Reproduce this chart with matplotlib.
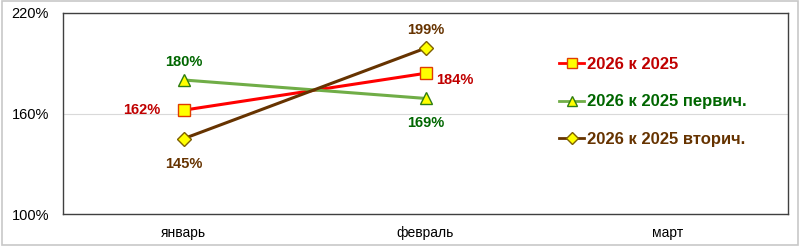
import matplotlib
matplotlib.use("Agg")
import matplotlib.pyplot as plt
from matplotlib.patches import Rectangle

months = ["январь", "февраль", "март"]
total = [162, 184]
primary = [180, 169]
secondary = [145, 199]
labels = ["2026 к 2025", "2026 к 2025 первич.", "2026 к 2025 вторич."]
yticks = [100, 160, 220]

plt.rcParams['font.family'] = ['Liberation Sans', 'DejaVu Sans']

fig = plt.figure(figsize=(8, 2.46), dpi=100)
ax = fig.add_axes([63 / 800, 32 / 246, 725 / 800, 201 / 246])

x = [0, 1]
# (values, label, line colour, marker, marker edge, text colour, marker size, label offsets)
series = [
    (total, labels[0], '#FF0000', 's', '#E03C00', '#C00000', 9,
     [('right', 'center', -17, 0), ('left', 'center', 8, -5)]),
    (primary, labels[1], '#70AD47', '^', '#2E7D12', '#006600', 9,
     [('center', 'center', 0, 13), ('center', 'center', 0, -18)]),
    (secondary, labels[2], '#663300', 'D', '#7F6000', '#663300', 7.5,
     [('center', 'center', 0, -18), ('center', 'center', 0, 13)]),
]
for vals, lab, lc, mk, me, tc, ms, offs in series:
    ax.plot(x, vals, color=lc, lw=2.2, marker=mk, ms=ms, mfc='#FFFF00', mec=me,
            mew=1, label=lab)
    for xi, v, (ha, va, dx, dy) in zip(x, vals, offs):
        ax.annotate(f"{v}%", (xi, v), xytext=(dx, dy), textcoords='offset points',
                    ha=ha, va=va, color=tc, fontsize=10.5, fontweight='bold')

ax.set_xlim(-0.5, 2.5)
ax.set_ylim(100, 220)
ax.set_xticks(range(len(months)))
ax.set_xticklabels(months, fontsize=10)
ax.set_yticks(yticks)
ax.set_yticklabels([f"{t}%" for t in yticks], fontsize=10.5)
ax.tick_params(length=0)
ax.tick_params(axis='x', pad=9)
ax.tick_params(axis='y', pad=10)
ax.grid(axis='y', color='#D9D9D9', lw=0.8)
ax.set_axisbelow(True)
for s in ax.spines.values():
    s.set_color('#404040')
    s.set_linewidth(1)

leg = ax.legend(loc='upper left', bbox_to_anchor=(0.675, 0.815), frameon=False,
                handlelength=1.5, handletextpad=0.15, labelspacing=1.35,
                prop={'size': 12, 'weight': 'bold'}, borderaxespad=0)
for txt, s in zip(leg.get_texts(), series):
    txt.set_color(s[5])
for h in leg.legend_handles:
    h.set_markersize(6.5)
    h.set_linewidth(2)

fig.patches.append(Rectangle((0.002, 0.004), 0.996, 0.99, transform=fig.transFigure,
                             fill=False, ec='#C8C8C8', lw=1.2))

fig.savefig("out.png", dpi=100, facecolor='white')
